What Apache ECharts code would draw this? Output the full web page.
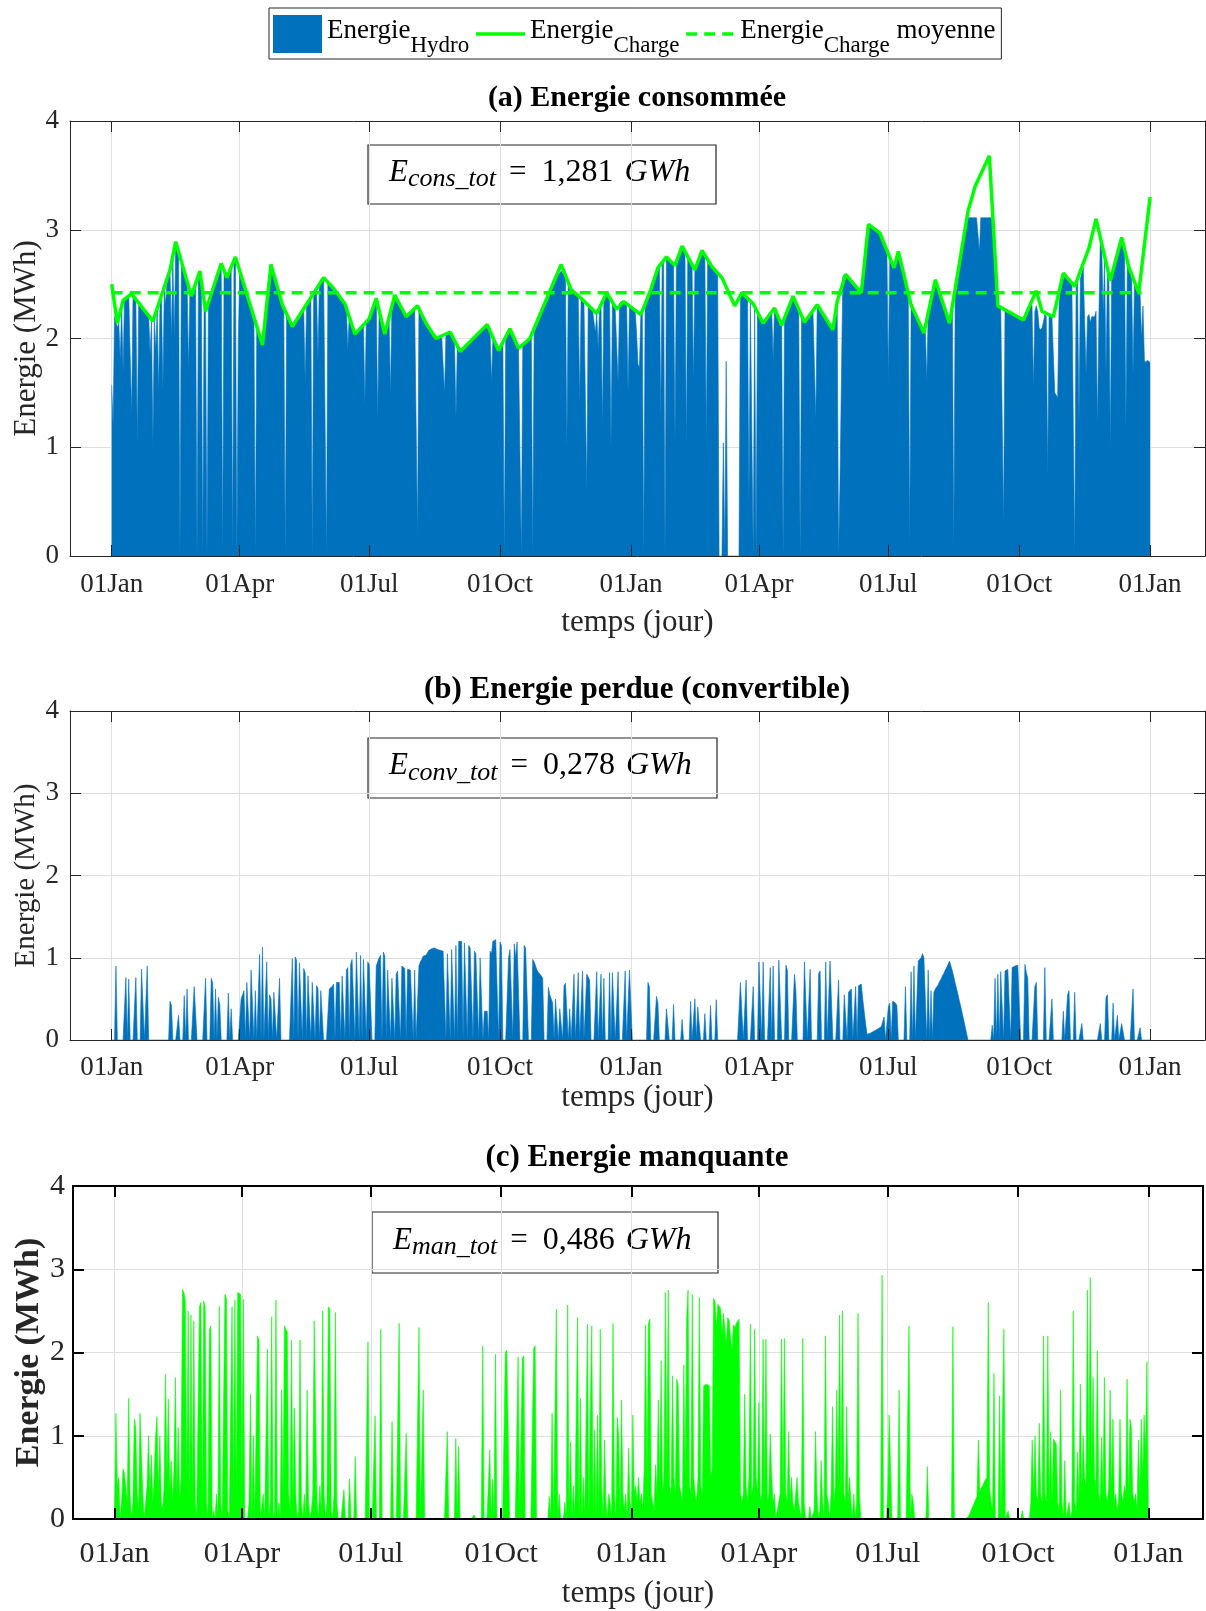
<!DOCTYPE html>
<html>
<head>
<meta charset="utf-8">
<script src="https://cdn.jsdelivr.net/npm/echarts@6/dist/echarts.min.js"></script>
<style>
html, body { margin: 0; padding: 0; background: #fff; }
#main { width: 1206px; height: 1611px; }
</style>
</head>
<body>
<div id="main"></div>
<script>
// jours comptés depuis le 01Jan de la 1re année (2 années, 731 jours)
var tickDays = [0, 90, 181, 273, 365, 455, 546, 638, 730];
var tickLabels = ['01Jan', '01Apr', '01Jul', '01Oct', '01Jan', '01Apr', '01Jul', '01Oct', '01Jan'];

// (a) énergie hydro fournie par jour (MWh)
var hydro = [
  1.57,1.2,2.2,2.15,2.1,2.15,1.8,2.3,1.7,2.36,
  2.38,2.39,2.4,2.4,1.3,2.39,2.38,2.36,1.05,2.33,
  2.31,2.29,2.28,2.26,2.24,2.23,2.21,1.85,2.18,1.03,
  2.2,1.88,2.28,1.5,2.36,2.39,1.53,2.47,2.31,2.55,
  2.59,2.63,2.0,2.76,2.0,2.86,2.84,2.8,0,2.71,
  2.66,2.62,2.57,2.53,1.71,2.44,2.39,2.43,2.47,2.5,
  0,2.58,2.62,2.53,0,2.34,2.25,0,2.33,2.37,
  2.41,2.45,2.49,2.53,2.57,2.61,2.65,2.69,0,2.62,
  2.59,2.56,2.59,2.62,2.65,0,2.72,2.75,0,1.97,
  2.62,2.58,2.54,2.49,2.45,2.41,2.37,2.32,2.28,2.24,
  2.2,0,2.11,2.07,2.03,1.98,1.94,2.06,2.19,2.31,
  2.43,2.56,2.68,2.63,2.59,2.54,2.49,2.45,2.4,2.36,
  2.31,2.28,0,2.22,2.2,2.17,2.14,2.11,2.13,2.15,
  2.17,2.19,2.21,2.23,2.25,2.27,1.6,2.31,2.33,2.36,
  2.38,0,2.42,2.44,2.46,1.8,2.5,2.52,2.54,2.56,
  2.55,0,2.52,2.5,2.49,2.47,2.46,2.44,2.42,2.41,
  2.39,2.37,2.35,2.34,2.32,2.28,1.9,2.2,2.16,2.12,
  2.08,2.04,2.06,2.07,2.09,2.11,2.12,2.14,1.4,2.17,
  2.18,2.18,2.17,2.22,2.27,2.32,2.37,1.24,2.26,2.21,
  2.15,2.1,2.04,2.09,2.14,2.19,1.48,2.3,2.35,2.4,
  2.38,2.35,2.33,2.3,2.28,2.25,2.23,2.2,2.21,2.23,
  2.24,2.25,2.26,2.28,2.29,0.2,2.27,2.25,2.22,2.19,
  2.17,2.14,2.12,2.1,2.08,2.06,2.04,2.02,2.0,2.01,
  2.01,2.02,2.02,2.03,1.5,2.04,2.05,2.05,2.06,2.03,
  2.0,1.98,1.27,1.93,1.9,1.88,1.89,1.9,1.92,1.93,
  1.95,1.96,1.97,1.99,2.0,2.01,2.03,2.04,2.05,2.07,
  2.08,2.09,2.11,2.12,2.13,2.1,2.06,1.6,2.0,1.97,
  1.94,1.92,1.89,1.92,1.94,1.97,0,2.02,2.04,2.07,
  2.09,2.06,2.03,2.0,1.97,1.94,1.91,1.92,0,1.94,
  1.95,1.97,1.98,1.99,2.0,2.03,0,2.09,2.12,2.15,
  2.19,2.22,2.25,2.28,2.31,2.34,2.37,2.4,2.43,2.46,
  2.5,2.53,2.56,2.59,2.6,2.6,2.62,2.6,2.58,2.56,
  1.0,2.52,2.48,2.45,2.44,2.43,2.42,2.41,2.39,1.4,
  2.37,2.36,2.34,2.33,0.6,2.31,2.29,2.28,2.27,2.26,
  2.05,2.23,1.9,2.29,2.31,1.2,2.37,2.39,2.42,2.39,
  2.37,1.0,2.32,2.29,2.27,2.27,1.6,2.32,2.34,2.33,
  2.34,2.33,2.32,1.5,2.3,2.29,2.28,2.27,2.26,2.05,
  1.76,1.74,2.22,2.25,0,2.31,2.34,2.37,2.41,2.45,
  2.49,2.53,2.57,2.61,2.65,2.67,1.27,2.7,2.72,0,
  2.75,2.74,2.72,2.71,2.7,2.68,1.05,2.71,2.74,2.78,
  2.81,2.85,2.83,2.8,1.0,2.75,2.73,2.7,2.68,1.6,
  2.63,2.67,2.7,2.74,2.77,2.81,2.79,2.77,1.04,2.72,
  2.7,2.68,2.66,2.65,2.63,2.62,2.6,0,0,0,
  1.04,0,1.79,0,0,0,0,0,0,0,
  0,0,2.4,2.42,2.41,2.39,2.38,2.37,0.5,2.34,
  2.33,0,2.29,0,2.24,2.22,2.19,2.17,2.14,2.16,
  2.18,2.19,2.21,2.23,2.25,1.8,2.28,2.25,2.21,2.18,
  2.15,2.12,0,2.19,2.22,2.26,2.29,2.32,2.36,2.39,
  2.36,2.33,2.3,2.27,0,2.21,2.18,2.15,2.17,2.19,
  2.2,2.22,2.24,2.26,2.27,1.25,2.31,2.29,2.27,2.25,
  2.23,2.21,2.19,2.17,2.14,2.12,2.1,2.08,2.17,2.25,
  2.34,0,0.69,0.69,2.57,2.58,2.59,2.57,2.56,2.54,
  2.53,2.51,2.5,2.48,2.47,2.45,2.43,2.42,2.55,2.67,
  2.8,2.93,3.05,3.04,3.03,3.02,3.01,3.0,2.99,2.98,
  2.97,2.93,2.9,2.86,2.82,2.79,1.6,2.72,2.68,2.65,
  2.65,2.7,2.75,2.8,2.74,2.69,2.63,2.58,2.52,2.47,
  2.42,0.1,2.31,2.28,2.25,2.23,2.2,2.17,2.14,2.11,
  2.08,2.05,2.11,1.6,2.24,2.3,2.36,2.42,2.48,2.54,
  2.5,2.46,2.42,2.38,2.34,2.3,2.26,2.22,2.18,2.14,
  2.22,2.3,0.1,2.46,2.54,2.61,2.69,2.77,2.85,2.93,
  3.01,3.09,3.11,3.11,3.11,3.11,3.11,3.11,3.11,3.11,
  2.8,3.11,3.11,3.11,3.11,3.11,3.11,3.11,3.11,3.11,
  2.99,2.76,2.53,2.3,2.29,2.29,2.28,0.3,2.27,2.26,
  2.25,2.24,2.24,2.23,2.22,2.22,2.21,2.2,2.2,2.19,
  2.18,2.17,2.2,2.23,2.26,2.29,2.32,2.3,1.55,2.25,
  2.3,2.25,2.1,2.08,2.1,2.15,2.22,2.2,0.75,2.21,
  2.21,2.2,2.2,1.5,1.48,1.45,2.3,2.49,2.54,2.58,
  2.58,2.57,2.55,2.54,2.53,2.51,2.5,0,2.52,2.55,
  1.2,2.55,2.6,2.65,2.66,1.67,2.2,2.22,2.15,2.2,
  2.2,2.2,2.25,1.2,2.2,2.91,2.85,2.23,2.72,1.67,
  2.6,2.57,1.0,2.58,2.63,2.68,2.73,2.78,2.83,2.88,
  2.93,2.88,2.82,1.18,2.71,2.66,2.62,2.58,1.67,2.5,
  2.46,2.44,2.42,2.4,2.0,2.3,1.8,1.78,1.8,1.79,1.78
];

// (a) énergie de la charge (sommets de la courbe) et sa moyenne
var chargeDays = [0,4,8,14,29,41,45,56,62,66, 77,81,87,106,112,120,127,149,156,164,
  171,181,186,192,199,207,215,221,228,238, 245,264,272,280,286,294,316,323,330,341,
  348,355,360,372,379,384,390,396,401,410, 415,422,429,438,443,451,458,466,471,479,
  487,496,507,510,516,527,532,540,550,553, 562,571,579,589,602,607,617,623,641,650,
  654,662,669,677,687,692,702,710,715,722, 730];
var chargeVals = [2.50,2.14,2.35,2.41,2.16,2.63,2.89,2.39,2.62,2.25, 2.69,2.56,2.75,1.94,2.68,2.31,2.11,2.56,2.46,2.32,
  2.04,2.18,2.37,2.04,2.40,2.20,2.30,2.14,2.00,2.06, 1.88,2.13,1.89,2.09,1.91,2.00,2.68,2.45,2.37,2.23,
  2.42,2.27,2.34,2.22,2.45,2.65,2.75,2.67,2.85,2.63, 2.81,2.66,2.56,2.30,2.42,2.32,2.14,2.28,2.12,2.39,
  2.15,2.31,2.08,2.34,2.59,2.42,3.05,2.97,2.65,2.80, 2.31,2.05,2.54,2.14,3.17,3.40,3.68,2.30,2.17,2.44,
  2.25,2.20,2.60,2.48,2.83,3.10,2.53,2.93,2.66,2.42, 3.30];
var meanDays = [0, 724];
var meanVals = [2.42, 2.42];

// (b) énergie perdue (convertible) par jour (MWh)
var perdue = [
  0,0,0,0.9,0,0,0,0,0,0,
  0.76,0,0.74,0,0,0,0,0.76,0,0,
  0,0.86,0.87,0,0,0.9,0,0,0,0,
  0,0,0,0,0,0,0,0,0,0,
  0,0.47,0.42,0,0,0,0,0.3,0,0,
  0,0.54,0,0.62,0,0,0,0,0.65,0.64,
  0,0,0,0,0,0,0.75,0,0,0,
  0.75,0.7,0,0.62,0,0.52,0.43,0,0,0,
  0,0,0.57,0,0.38,0,0,0,0,0,
  0,0.5,0.55,0.6,0,0.7,0.72,0,0.85,0.87,
  0,0.6,0,0,1.04,0,1.13,0,0,0.95,
  0,0.55,0.5,0,0.58,0.6,0,0,0.75,0,
  0,0,0,0,0,0,0,0.99,0,1.01,
  0.97,0,0.94,0.92,0,0.87,0.82,0,0.78,0.76,
  0,0.7,0.68,0,0.66,0.63,0,0.6,0.6,0,
  0,0,0,0.62,0.62,0.65,0.68,0,0.7,0.7,
  0.7,0,0.78,0.8,0,0.85,0.88,0,0.92,0.98,
  1.0,0,1.07,1.05,0,1.03,0,0.98,0.97,0,
  0.95,0.92,0.9,0,0,0,0.9,0.95,1.0,1.03,
  0,1.07,1.02,0,0.85,0.84,0,0.75,0.74,0,
  0.8,0.84,0.86,0,0.9,0.88,0.87,0,0.86,0.85,
  0.85,0.84,0,0.85,0,0,0.9,0.95,0.98,1.02,
  1.0,1.03,1.06,1.09,1.1,1.11,1.12,1.12,1.11,1.1,
  1.1,1.09,1.09,1.08,1.1,0,1.05,1.07,0,1.1,
  1.12,0,1.15,0,1.2,1.22,1.2,0,1.18,1.16,
  0,1.15,1.12,1.1,0,1.08,1.05,1.05,0,1.0,
  0.98,0,0.35,0.34,0.35,0,1.08,1.05,1.2,1.22,
  1.22,1.2,0,1.19,1.15,0,0,0,0,1.0,
  1.1,1.12,0,1.17,1.0,1.19,1.18,0,0,0,
  1.15,1.12,1.13,0,0,0,0.98,0.95,0.9,0.85,
  0.82,0.8,0.78,0.75,0,0,0,0.64,0.55,0.5,
  0.45,0,0.5,0.5,0,0.38,0.38,0,0.66,0.69,
  0.69,0,0.38,0,0,0.8,0,0,0.82,0,
  0,0.84,0,0,0.8,0.78,0.73,0,0,0,
  0,0.83,0,0,0.8,0,0.75,0,0,0,
  0.82,0,0.82,0.83,0,0,0.83,0,0,0,
  0,0.84,0,0,0.85,0.86,0,0,0,0,
  0,0,0,0,0,0,0,0.7,0.65,0,
  0,0,0,0.53,0.45,0,0,0,0,0,
  0.38,0.4,0,0,0,0.43,0,0,0,0,
  0,0.25,0,0,0,0,0,0.47,0,0,
  0.5,0,0.4,0.38,0,0,0,0.32,0,0,
  0,0.42,0,0,0,0.49,0,0,0,0,
  0,0,0,0,0,0,0,0,0,0,
  0,0,0.7,0.72,0,0,0.73,0,0,0,
  0,0.65,0,0,0,0.95,0.97,0,0.95,0,
  0,0,0,0.88,0,0.9,0,0,0,0.97,
  0.98,0,0,0,0.91,0.85,0,0,0,0,
  0.8,0.6,0,0,0,0,0,0.95,0.93,0,
  0,0.86,0,0,0,0,0,0.81,0.84,0,
  0,0,0.95,0,0,0.96,0.98,0,0,0,
  0,0.73,0,0,0,0.55,0.53,0,0.58,0.6,
  0.62,0,0,0.65,0,0.66,0.67,0.68,0.5,0.35,
  0.2,0.07,0.07,0.08,0.09,0.1,0.11,0.12,0.13,0.14,
  0.15,0.16,0.15,0.28,0,0,0.4,0.45,0,0.47,
  0.47,0.45,0.42,0,0,0,0,0,0.65,0,
  0,0,0.83,0,0.9,0,0,0.96,0.98,1.0,
  1.05,1.0,0.98,0,0.85,0,0.6,0,0.58,0.62,
  0.64,0.67,0.71,0.74,0.78,0.81,0.85,0.88,0.92,0.96,
  0.9,0.84,0.77,0.69,0.62,0.55,0.47,0.4,0.32,0.24,
  0.16,0.08,0,0,0,0,0,0,0,0,
  0,0,0,0,0,0,0,0,0,0.18,
  0,0.75,0,0.8,0,0.83,0.83,0,0.84,0.85,
  0.86,0.87,0,0.88,0.89,0.9,0.9,0.91,0.92,0,
  0,0,0.92,0.82,0.75,0,0,0,0,0.65,
  0.7,0,0,0,0,0,0.88,0,0,0,
  0,0.5,0,0,0,0,0,0,0,0.35,
  0,0,0.55,0.6,0,0,0,0.58,0,0,
  0,0,0.2,0,0,0,0,0,0,0,
  0,0,0,0,0,0.2,0,0,0,0.52,
  0.55,0,0,0,0.45,0,0,0.3,0,0,
  0.2,0.22,0,0,0,0,0,0,0.62,0,
  0,0,0,0.15,0,0,0,0,0,0,0
];

// (c) énergie manquante par jour (MWh)
var manquante = [
  0,1.27,0.4,0.5,0,0.2,0.6,0.55,0.53,0.2,
  1.45,0.3,0,0.2,1.2,1.1,0.3,0.1,1.27,1.28,
  0.3,0,0.2,0.4,1.0,0.3,0.77,0.2,0.5,1.0,
  1.23,0.3,1.0,0.2,0.1,0.4,1.74,0.5,1.44,0.3,
  0.7,0.2,0.6,1.7,0.3,1.1,0.2,0.5,2.76,2.72,
  2.62,0.3,2.5,0.1,2.45,0.2,2.38,0.2,0,0,
  2.55,2.6,0.1,2.62,2.55,0.2,0,2.27,2.32,0,
  0.1,0,0.3,0,2.55,0.2,0,0,2.7,2.65,
  0.1,0,0,2.55,0.3,2.63,0.2,2.72,2.74,2.7,
  0.3,2.64,0,0,0,0.2,1.5,0,1.0,0,
  0,2.2,2.15,0,0,0.3,0,0,2.04,0,
  0.2,2.43,0,0.1,2.63,0,0.2,0,1.55,0.3,
  2.32,2.28,2.25,0.3,0.1,2.15,0.2,1.33,0.3,0,
  0.1,2.15,0.2,0,0.3,0,1.55,0.2,0,0.1,
  0.3,2.38,2.4,0.2,0,0.4,0.1,2.5,0.3,0,
  0.2,2.55,2.52,0.1,0,0.3,2.48,0.2,0,0,
  0,0,0.35,0,0,0,0.48,0,0,0,
  0.75,0,0,0,0,0,0,0,0,2.13,
  0,0,0,0,1.24,0,0,0,2.28,0,
  0,0,0,0,0,0,1.17,0,0,0,
  0,2.35,0,0,0,0,1.03,0,0,0,
  0,0,0,0,0,2.3,0,0,1.55,0,
  0,0,0,0,0,0,0,0,0,0,
  0,0,0,0,0,1.05,0,0,0,0,
  0,0.97,0,0.87,0,0,0,0,0,0,
  0,0,0,0,0.05,0,0,0,0,0,
  2.08,0,0,0,0,0.83,0,0.48,0,1.98,
  0,0,0,0,0,0,2.0,2.03,2.05,0,
  0,0,0,0,0,1.95,0,0,1.93,1.96,
  0,0,0,0,0,0,2.05,2.08,0,0,
  0,0,0,0,0,0,0,0.27,0,1.27,
  0,0,2.52,0,0.3,0,0,0,0.2,0,
  2.57,0,0.93,0,0.4,0,0,2.42,0,1.45,
  0,0.5,0,0,2.34,0,1.3,2.32,0,1.07,
  0,1.25,0,2.28,0.4,0,0.95,0.2,0,0.3,
  0.2,0,2.35,0.3,0,1.22,1.0,0,1.43,0.3,
  0.1,0.3,0,0.85,0.2,0,1.25,0.3,0.4,0.2,
  0.5,0.2,0.3,0.1,0.6,2.33,0.4,2.35,2.4,0.3,
  0.2,0.1,0.65,0.3,1.43,0.4,1.9,0.3,0.5,2.72,
  0.6,2.75,0.4,0.3,1.72,0.5,0.3,1.68,1.6,0.4,
  0.3,0.2,1.85,0.5,2.42,2.75,0.4,0.3,2.7,0.5,
  0.3,0.2,0.5,2.66,0.4,0.3,1.6,1.6,1.62,1.6,
  1.6,0.5,0.6,2.65,2.62,2.3,2.58,2.56,2.53,2.2,
  2.47,2.46,2.1,2.42,2.38,2.36,2.0,2.33,2.3,2.35,
  2.37,2.4,0.3,0.2,0.3,1.5,0.4,0.2,0.5,2.34,
  0.3,0.4,2.28,0.5,0.3,1.4,0.2,0.3,2.16,0.3,
  2.16,0.2,0.3,1.02,0.55,0.2,0.3,0,0.1,0.2,
  0.3,2.16,0.2,2.17,0.3,0.2,1.05,0.2,0.5,0.2,
  0.1,0.3,0.5,0.2,0.1,0,2.17,0.2,0,0,
  0,0.15,0,0,0.1,1.05,0.3,0,0.1,0.7,
  0.2,0,2.2,0.3,0.2,0,0.3,1.35,0.2,0.4,
  1.55,0.3,2.45,0.2,2.5,0.3,0.2,1.35,0.2,0.5,
  0.2,0,0.3,0,0.2,2.47,0.3,0,0,0,
  0,0,0,0,0,0,0,0,0,0,
  0,0,2.93,0,0,0,0.3,1.25,0.6,0,
  0,0,0,0,1.55,0,0,0,0,0,
  0,2.32,0,0.3,0.2,0,0,0,0,0,
  0,0,0,0,0.63,0,0,0,0,0,
  0,0,0,0,0,0,0,0,0,0,
  0,0,2.31,0,0,0,0,0,0,0,
  0,0,0,0.03,0.07,0.11,0.15,0.19,0.23,0.27,
  0.95,0.33,0.37,0.4,0.44,0.47,0.5,2.6,0.35,0.2,
  0.1,1.75,0,0,0,1.48,0,0,2.28,0,
  0,0.1,0,0,0,0,0,0,0,0,
  0,0.1,0,0,0,0,0,0.2,0.95,0.3,
  1.0,0.3,0.2,1.15,0.3,0.2,2.2,0.3,0.2,2.2,
  0.2,1.05,0.2,0.96,0.97,0.9,0.2,0.1,1.55,0.2,
  0,0.7,0,0,0.2,0,0.1,2.5,0.2,0.1,
  0.8,0.2,1.62,0.3,1.0,0.5,0.4,2.75,0.5,2.9,
  0.6,1.7,0.5,0.4,2.02,0.3,0.2,0.98,0.3,1.7,
  0.3,0.2,0.4,1.55,0.3,1.2,0.2,0.3,0.1,0.2,
  1.2,0.3,0.2,0.4,0.3,1.68,0.2,1.2,1.1,0.3,
  0.2,0.3,0.1,0.95,0.3,1.2,0.5,1.25,0.8,1.89,0
];

// totaux affichés dans les encadrés
var totNames = ['cons_tot', 'conv_tot', 'man_tot'];
var totValues = ['1,281', '0,278', '0,486'];

var SERIF = '"Liberation Serif", "DejaVu Serif", serif';
var BLUE = '#0072BD';
var GREEN = '#00FF00';
var X_MIN = -29.3, X_MAX = 768.6;

var chart = echarts.init(document.getElementById('main'));

var grids = [
  { left: 70, top: 121, width: 1135, height: 435, outerBoundsMode: 'none' },
  { left: 70, top: 711, width: 1135, height: 329, outerBoundsMode: 'none' },
  { left: 73, top: 1186, width: 1130, height: 333, outerBoundsMode: 'none' }
];

// styles par sous-figure
var panels = [
  { tick: 27, xName: 31, yName: 31, yBold: 'normal', xMargin: 15, yMargin: 11, xGap: 51, yGap: 28, lw: 1, col: '#262626' },
  { tick: 27, xName: 31, yName: 29, yBold: 'normal', xMargin: 14, yMargin: 11, xGap: 37, yGap: 29, lw: 1, col: '#262626' },
  { tick: 30, xName: 31, yName: 34, yBold: 'bold', xMargin: 20, yMargin: 8, xGap: 59, yGap: 27, lw: 2, col: '#000' }
];

function tickFmt(v) {
  var k = tickDays.indexOf(Math.round(v));
  return k >= 0 ? tickLabels[k] : '';
}

var xAxes = [], yAxes = [];
panels.forEach(function (p, g) {
  // axe du bas : étiquettes, graduations, au-dessus des aires
  xAxes.push({
    type: 'value', gridIndex: g, position: 'bottom', min: X_MIN, max: X_MAX, z: 5,
    axisLine: { show: true, onZero: false, lineStyle: { color: p.col, width: p.lw } },
    axisTick: { show: true, inside: true, length: 11, customValues: tickDays, lineStyle: { color: p.col, width: p.lw } },
    axisLabel: { customValues: tickDays, formatter: tickFmt, fontFamily: SERIF, fontSize: p.tick, color: '#262626', margin: p.xMargin },
    splitLine: { show: false },
    name: 'temps (jour)', nameLocation: 'middle', nameGap: p.xGap,
    nameTextStyle: { fontFamily: SERIF, fontSize: p.xName, color: '#262626' }
  });
  // axe du haut : cadre + grille verticale (sous les aires)
  xAxes.push({
    type: 'value', gridIndex: g, position: 'top', min: X_MIN, max: X_MAX,
    axisLine: { show: true, onZero: false, lineStyle: { color: p.col, width: p.lw } },
    axisTick: { show: true, inside: true, length: 11, customValues: tickDays, lineStyle: { color: p.col, width: p.lw } },
    axisLabel: { show: false, customValues: tickDays },
    splitLine: { show: true, lineStyle: { color: '#dedede', width: 1 } }
  });
  yAxes.push({
    type: 'value', gridIndex: g, position: 'left', min: 0, max: 4, interval: 1, z: 5,
    axisLine: { show: true, onZero: false, lineStyle: { color: p.col, width: p.lw } },
    axisTick: { show: true, inside: true, length: 11, lineStyle: { color: p.col, width: p.lw } },
    axisLabel: { fontFamily: SERIF, fontSize: p.tick, color: '#262626', margin: p.yMargin },
    splitLine: { show: false },
    name: 'Energie (MWh)', nameLocation: 'middle', nameGap: p.yGap, nameMoveOverlap: false,
    nameTextStyle: { fontFamily: SERIF, fontSize: p.yName, fontWeight: p.yBold, color: '#262626' }
  });
  yAxes.push({
    type: 'value', gridIndex: g, position: 'right', min: 0, max: 4, interval: 1,
    axisLine: { show: true, onZero: false, lineStyle: { color: p.col, width: p.lw } },
    axisTick: { show: true, inside: true, length: 11, lineStyle: { color: p.col, width: p.lw } },
    axisLabel: { show: false },
    splitLine: { show: true, lineStyle: { color: '#dedede', width: 1 } }
  });
});

function daily(arr) {
  return arr.map(function (v, i) { return [i, v]; });
}
function pairs(days, vals) {
  return days.map(function (d, i) { return [d, vals[i]]; });
}

function areaSeries(name, data, color, g) {
  return {
    name: name, type: 'line', xAxisIndex: 2 * g, yAxisIndex: 2 * g,
    data: data, symbol: 'none', silent: true, z: 2,
    itemStyle: { color: color },
    lineStyle: { color: color, width: 0.6 },
    areaStyle: { color: color, opacity: 1 }
  };
}

var legendText = {
  EnergieHydro: '{m|Energie}{s|Hydro}',
  EnergieCharge: '{m|Energie}{s|Charge}',
  EnergieChargeMoy: '{m|Energie}{s|Charge}{m| moyenne}'
};

var rich = {
  m: { fontFamily: SERIF, fontSize: 27, color: '#000', height: 40, verticalAlign: 'top' },
  s: { fontFamily: SERIF, fontSize: 23, color: '#000', verticalAlign: 'bottom' }
};

function annot(x, y, w, h, k) {
  var base = { fontFamily: SERIF, color: '#000', lineHeight: 40 };
  return {
    type: 'group', x: x, y: y, z: 20,
    children: [
      { type: 'rect', shape: { x: 0, y: 0, width: w, height: h },
        style: { fill: 'none', stroke: '#262626', lineWidth: 1.2 } },
      { type: 'text', x: 21, y: h / 2 - 2,
        style: {
          text: '{e|E}{s|' + totNames[k] + '}{eq|=}{n|' + totValues[k] + '}{u|GWh}',
          verticalAlign: 'middle', align: 'left',
          rich: {
            e: Object.assign({ fontStyle: 'italic', fontSize: 31 }, base),
            s: Object.assign({ fontStyle: 'italic', fontSize: 26, verticalAlign: 'bottom' }, base),
            eq: Object.assign({ fontSize: 31, padding: [0, 15, 0, 13] }, base),
            n: Object.assign({ fontSize: 32, padding: [0, 11, 0, 0] }, base),
            u: Object.assign({ fontStyle: 'italic', fontSize: 32 }, base)
          }
        } }
    ]
  };
}

function title(txt, y, size) {
  return {
    type: 'text', x: 637, y: y, z: 20,
    style: { text: txt, fontFamily: SERIF, fontWeight: 'bold', fontSize: size, fill: '#000', align: 'center', verticalAlign: 'middle' }
  };
}

var option = {
  animation: false,
  backgroundColor: '#fff',
  legend: {
    left: 269, top: 8,
    data: [
      { name: 'EnergieHydro', icon: 'rect' },
      { name: 'EnergieCharge', itemStyle: { opacity: 0 }, lineStyle: { width: 3.5 } },
      { name: 'EnergieChargeMoy', itemStyle: { opacity: 0 }, lineStyle: { width: 3.5, type: [11, 7] } }
    ],
    itemWidth: 49, itemHeight: 38, itemGap: 5,
    padding: [3, 6, 2, 4],
    borderColor: '#262626', borderWidth: 1, backgroundColor: '#fff',
    selectedMode: false,
    formatter: function (name) { return legendText[name]; },
    textStyle: { rich: rich, lineHeight: 46 }
  },
  grid: grids,
  xAxis: xAxes,
  yAxis: yAxes,
  graphic: [
    title('(a) Energie consommée', 98, 30),
    title('(b) Energie perdue (convertible)', 690, 31),
    title('(c) Energie manquante', 1158, 31),
    annot(368, 145, 348, 59, 0),
    annot(368, 738, 349, 60, 1),
    annot(372, 1212, 346, 61, 2)
  ],
  series: [
    areaSeries('EnergieHydro', daily(hydro), BLUE, 0),
    {
      name: 'EnergieCharge', type: 'line', xAxisIndex: 0, yAxisIndex: 0, z: 3,
      data: pairs(chargeDays, chargeVals), symbol: 'none', silent: true,
      itemStyle: { color: GREEN }, lineStyle: { color: GREEN, width: 3.5 }
    },
    {
      name: 'EnergieChargeMoy', type: 'line', xAxisIndex: 0, yAxisIndex: 0, z: 3,
      data: pairs(meanDays, meanVals), symbol: 'none', silent: true,
      itemStyle: { color: GREEN }, lineStyle: { color: GREEN, width: 3.5, type: [11, 7] }
    },
    areaSeries('perdue', daily(perdue), BLUE, 1),
    areaSeries('manquante', daily(manquante), GREEN, 2)
  ]
};

chart.setOption(option);
</script>
</body>
</html>
